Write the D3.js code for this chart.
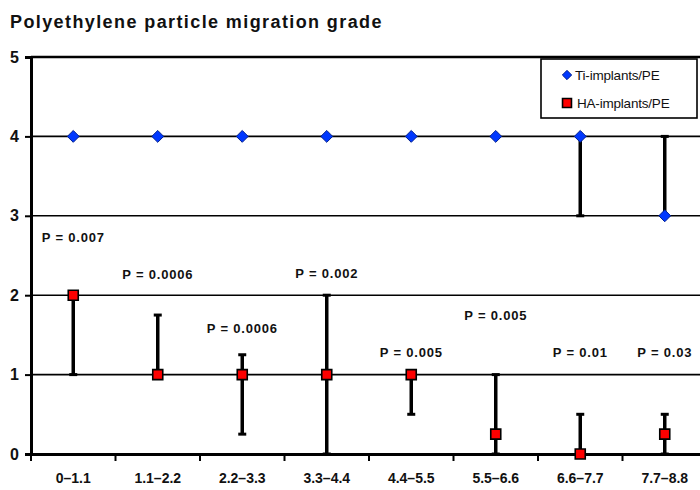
<!DOCTYPE html>
<html>
<head>
<meta charset="utf-8">
<script src="https://cdn.jsdelivr.net/npm/d3@7"></script>
<style>
  body { margin: 0; background: #fff; }
  svg { display: block; font-family: "Liberation Sans", Arial, Helvetica, sans-serif; }
</style>
</head>
<body>
<svg id="chart" width="700" height="490"></svg>
<script>
// categories (x)
var categories = ["0\u20131.1", "1.1\u20132.2", "2.2\u20133.3", "3.3\u20134.4", "4.4\u20135.5", "5.5\u20136.6", "6.6\u20137.7", "7.7\u20138.8"]

// Ti-implants/PE
var tiValues = [4, 4, 4, 4, 4, 4, 4, 3]
var tiLow = [4, 4, 4, 4, 4, 4, 3, 3]
var tiHigh = [4, 4, 4, 4, 4, 4, 4, 4]

// HA-implants/PE
var haValues = [2, 1, 1, 1, 1, 0.25, 0, 0.25]
var haLow = [1, 1, 0.25, 0, 0.5, 0, 0, 0]
var haHigh = [2, 1.75, 1.25, 2, 1, 1, 0.5, 0.5]

// p-value annotations (category index, text, y in grade units)
var pLabels = [
  {i: 0, text: "P = 0.007", y: 2.67},
  {i: 1, text: "P = 0.0006", y: 2.2},
  {i: 2, text: "P = 0.0006", y: 1.53},
  {i: 3, text: "P = 0.002", y: 2.22},
  {i: 5, text: "P = 0.005", y: 1.69},
  {i: 4, text: "P = 0.005", y: 1.22},
  {i: 6, text: "P = 0.01", y: 1.22},
  {i: 7, text: "P = 0.03", y: 1.22}
]
var yTicks = [0, 1, 2, 3, 4, 5]

var svg = d3.select("#chart")
var mLeft = 31, mRight = 707, mTop = 57, mBottom = 454

var x = d3.scaleBand().domain(d3.range(categories.length)).range([mLeft, mRight]).padding(0)
var y = d3.scaleLinear().domain([0, 5]).range([mBottom, mTop])
var cx = function(i){ return x(i) + x.bandwidth() / 2 }

// title
svg.append("text")
  .attr("x", 10).attr("y", 28)
  .style("font-size", "18px")
  .style("font-weight", "bold")
  .style("letter-spacing", "1.4px")
  .style("fill", "#111")
  .text("Polyethylene particle migration grade")

// gridlines
svg.append("g").selectAll("line").data(yTicks.filter(function(d){ return d > 0 }))
  .join("line")
  .attr("x1", mLeft).attr("x2", mRight)
  .attr("y1", function(d){ return y(d) }).attr("y2", function(d){ return y(d) })
  .style("stroke", "#000")
  .style("stroke-width", function(d){ return d == 5 ? 2.5 : 1.6 })

// y axis
var yAxis = svg.append("g")
  .attr("transform", "translate(" + mLeft + ",0)")
  .call(d3.axisLeft(y).tickValues(yTicks).tickFormat(d3.format("d")).tickSize(6).tickPadding(6))
yAxis.select(".domain").style("stroke", "#000").style("stroke-width", 3)
yAxis.selectAll(".tick line").style("stroke", "#000").style("stroke-width", 2)
yAxis.selectAll("text").style("font-size", "16px").style("font-weight", "bold").style("fill", "#111")

// x axis
var xAxis = svg.append("g")
  .attr("transform", "translate(0," + mBottom + ")")
  .call(d3.axisBottom(x).tickFormat(function(i){ return categories[i] }).tickSize(0).tickPadding(19))
xAxis.select(".domain").style("stroke", "#000").style("stroke-width", 3)
xAxis.selectAll("text").style("font-size", "14px").style("font-weight", "bold").style("fill", "#111")
xAxis.selectAll(".bound").data(d3.range(categories.length))
  .join("line")
  .attr("class", "bound")
  .attr("x1", function(i){ return x(i) }).attr("x2", function(i){ return x(i) })
  .attr("y1", 0).attr("y2", 7)
  .style("stroke", "#000").style("stroke-width", 2)

// error bars
function errorBars(low, high, cls){
  var idx = d3.range(categories.length).filter(function(i){ return low[i] != high[i] })
  var g = svg.append("g").attr("class", cls)
  g.selectAll(".bar").data(idx).join("line")
    .attr("x1", cx).attr("x2", cx)
    .attr("y1", function(i){ return y(low[i]) }).attr("y2", function(i){ return y(high[i]) })
    .style("stroke", "#000").style("stroke-width", 3.5)
  var caps = []
  idx.forEach(function(i){ caps.push([i, low[i]]); caps.push([i, high[i]]) })
  g.selectAll(".cap").data(caps).join("line")
    .attr("x1", function(d){ return cx(d[0]) - 4 }).attr("x2", function(d){ return cx(d[0]) + 4 })
    .attr("y1", function(d){ return y(d[1]) }).attr("y2", function(d){ return y(d[1]) })
    .style("stroke", "#000").style("stroke-width", 3)
}
errorBars(tiLow, tiHigh, "ti-err")
errorBars(haLow, haHigh, "ha-err")

// markers
var diamond = d3.symbol().type(d3.symbolDiamond2).size(90)
var square = d3.symbol().type(d3.symbolSquare).size(100)

svg.append("g").selectAll("path").data(tiValues)
  .join("path")
  .attr("d", diamond)
  .attr("transform", function(d, i){ return "translate(" + cx(i) + "," + y(d) + ")" })
  .style("fill", "#0038ff").style("stroke", "#001f8f").style("stroke-width", 1)

svg.append("g").selectAll("path").data(haValues)
  .join("path")
  .attr("d", square)
  .attr("transform", function(d, i){ return "translate(" + cx(i) + "," + y(d) + ")" })
  .style("fill", "#ff0000").style("stroke", "#000").style("stroke-width", 1.6)

// p labels
svg.append("g").selectAll("text").data(pLabels)
  .join("text")
  .attr("x", function(d){ return cx(d.i) })
  .attr("y", function(d){ return y(d.y) })
  .attr("text-anchor", "middle")
  .style("font-size", "13px")
  .style("font-weight", "bold")
  .style("letter-spacing", "0.8px")
  .style("fill", "#111")
  .text(function(d){ return d.text })

// legend
var lg = svg.append("g").attr("transform", "translate(541,59)")
lg.append("rect").attr("width", 156).attr("height", 59)
  .style("fill", "#fff").style("stroke", "#000").style("stroke-width", 1.6)
lg.append("path").attr("d", d3.symbol().type(d3.symbolDiamond2).size(55))
  .attr("transform", "translate(26,16)")
  .style("fill", "#0038ff").style("stroke", "#001f8f")
lg.append("path").attr("d", d3.symbol().type(d3.symbolSquare).size(80))
  .attr("transform", "translate(26,44)")
  .style("fill", "#ff0000").style("stroke", "#000").style("stroke-width", 1.6)
lg.append("text").attr("x", 34).attr("y", 21).text("Ti-implants/PE")
  .style("font-size", "13.5px").style("letter-spacing", "-0.2px").style("fill", "#111")
lg.append("text").attr("x", 36).attr("y", 49).text("HA-implants/PE")
  .style("font-size", "13.5px").style("letter-spacing", "-0.2px").style("fill", "#111")
</script>
</body>
</html>
